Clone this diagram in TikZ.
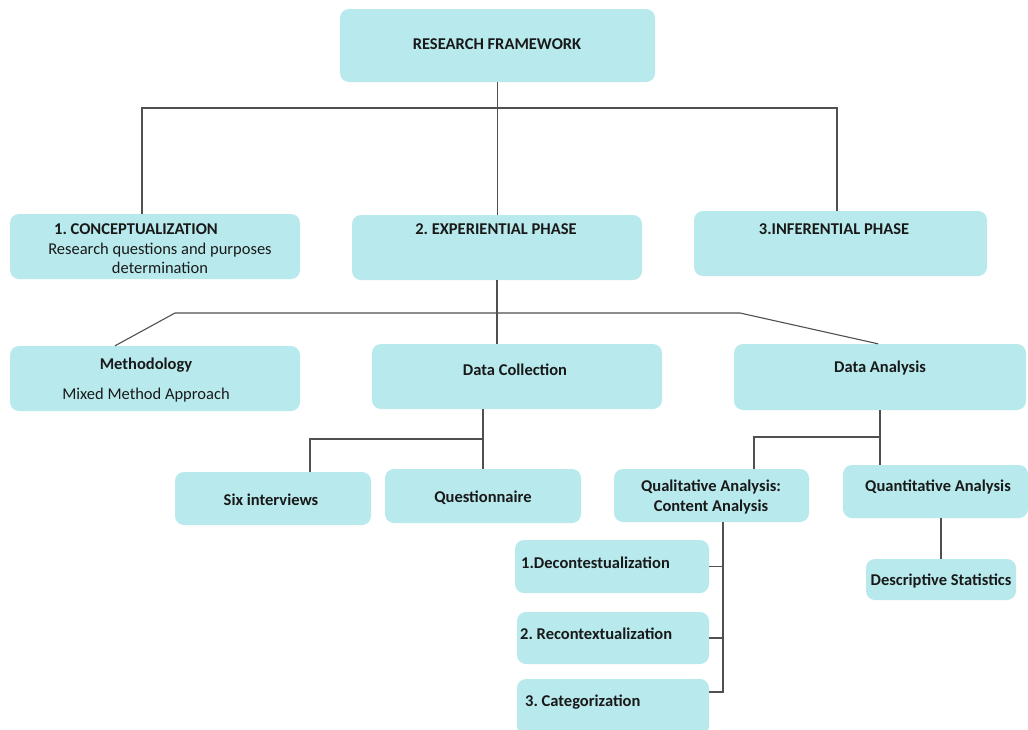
\documentclass[tikz,border=0pt]{standalone}
\usepackage{fontspec}
\setmainfont{Carlito}
\frenchspacing
\definecolor{boxfill}{RGB}{184,234,237}
\definecolor{linec}{RGB}{80,80,80}
\definecolor{txt}{RGB}{25,25,25}
\begin{document}
\begin{tikzpicture}[x=1pt,y=-1pt,
  box/.style={fill=boxfill, rounded corners=9pt, inner sep=0pt},
  lbl/.style={font=\fontsize{16.5}{20}\selectfont\bfseries, inner sep=0pt, text=txt},
  sub/.style={font=\fontsize{16.5}{19}\selectfont, inner sep=0pt, text=txt},
  conn/.style={draw=linec, line width=1.1pt}]
\useasboundingbox (0,0) rectangle (1028,729);
\fill[white] (0,0) rectangle (1028,729);
% boxes
\node[box, minimum width=315pt, minimum height=73pt] (top) at (497.5,45.5) {};
\node[box, minimum width=290pt, minimum height=65pt] (concept) at (155,246.5) {};
\node[box, minimum width=290pt, minimum height=65pt] (exp) at (497,247.5) {};
\node[box, minimum width=293pt, minimum height=65pt] (infer) at (840.5,243.5) {};
\node[box, minimum width=290pt, minimum height=65pt] (method) at (155,378.5) {};
\node[box, minimum width=290pt, minimum height=65pt] (datacoll) at (517,376.5) {};
\node[box, minimum width=292pt, minimum height=66pt] (datan) at (880,377) {};
\node[box, minimum width=196pt, minimum height=53pt] (six) at (273,498.5) {};
\node[box, minimum width=196pt, minimum height=54pt] (quest) at (483,496) {};
\node[box, minimum width=195pt, minimum height=53pt] (qual) at (711.5,495.5) {};
\node[box, minimum width=185pt, minimum height=53pt] (quant) at (935.5,491.5) {};
\node[box, minimum width=150pt, minimum height=41pt] (desc) at (941,579.5) {};
\node[box, minimum width=194pt, minimum height=53pt] (decon) at (612,566.5) {};
\node[box, minimum width=192pt, minimum height=52pt] (recon) at (613,638) {};
\node[box, minimum width=192pt, minimum height=56pt] (categ) at (613,707) {};
% labels
\node[lbl] (topt) at (497,44) {RESEARCH FRAMEWORK};
\node[lbl] (conceptt) at (136,229) {1. CONCEPTUALIZATION};
\node[sub, align=center] (concepts) at (160,258.5) {Research questions and purposes\\determination};
\node[lbl] (expt) at (496,229) {2. EXPERIENTIAL PHASE};
\node[lbl] (infert) at (834,229) {3.INFERENTIAL PHASE};
\node[lbl] (methodt) at (146,365) {Methodology};
\node[sub] (methods) at (146,395) {Mixed Method Approach};
\node[lbl] (datacollt) at (515,370) {Data Collection};
\node[lbl] (datant) at (880,368) {Data Analysis};
\node[lbl] (sixt) at (271,500) {Six interviews};
\node[lbl] (questt) at (483,498) {Questionnaire};
\node[lbl, align=center] (qualt) at (711,497) {Qualitative Analysis:\\Content Analysis};
\node[lbl] (quantt) at (938,487) {Quantitative Analysis};
\node[lbl] (desct) at (941,581) {Descriptive Statistics};
\node[lbl, anchor=west] (decont) at (521,563) {1.Decontestualization};
\node[lbl, anchor=west] (recont) at (520,634) {2. Recontextualization};
\node[lbl, anchor=west] (categt) at (525,702) {3. Categorization};
% junction coordinates
\coordinate (c1) at (142,108);
\coordinate (c2) at (837,108);
\coordinate (d1) at (175,313);
\coordinate (d2) at (740,313);
\coordinate (dm) at (115,346);
\coordinate (da) at (878,344);
\coordinate (e1) at (483,439);
\coordinate (e2) at (310,439);
\coordinate (f2) at (754,437);
\coordinate (g) at (723,692);
% connectors
\draw[conn] (top.south) -- (top.south |- exp.north);
\draw[conn] (concept.north -| c1) -- (c1) -- (c2) -- (infer.north -| c2);
\draw[conn] (exp.south) -- (exp.south |- datacoll.north);
\draw[conn] (method.north -| dm) -- (d1) -- (d2) -- (datan.north -| da);
\draw[conn] (datacoll.south -| e1) -- (quest.north -| e1);
\draw[conn] (e1) -- (e2) -- (six.north -| e2);
\draw[conn] (datan.south) -- (datan.south |- quant.north);
\draw[conn] (datan.south |- f2) -- (f2) -- (qual.north -| f2);
\draw[conn] (desc.north) -- (desc.north |- quant.south);
\draw[conn] (qual.south -| g) -- (g) -- (categ.east |- g);
\draw[conn] (decon.east) -- (decon.east -| g);
\draw[conn] (recon.east) -- (recon.east -| g);
\end{tikzpicture}
\end{document}
